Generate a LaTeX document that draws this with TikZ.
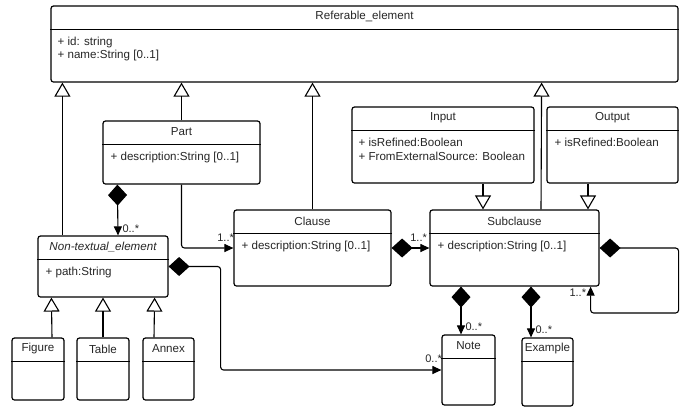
\documentclass[tikz,border=0pt]{standalone}
\usepackage{fontspec}
\setmainfont{Liberation Sans}
\usetikzlibrary{arrows.meta,positioning}
\tikzset{%
	classbox/.style = {draw, rectangle, rounded corners=2.5pt, line width=1.2pt, inner sep=0pt},
	ctitle/.style   = {font=\fontsize{11.6}{13}\selectfont, text=black!85, inner sep=0pt},
	cattr/.style    = {font=\fontsize{11.6}{13}\selectfont, text=black!85, inner sep=0pt, anchor=base west},
	mult/.style     = {font=\fontsize{11}{12}\selectfont, text=black!85, inner sep=0pt},
	gen/.style      = {line width=1.1pt, -{Triangle[open,length=14pt,width=16pt,line width=1.1pt]}},
	comp/.style     = {line width=1.1pt, rounded corners=3pt, {Diamond[length=21pt,width=19pt]}-{Triangle[length=9pt,width=8pt]}},
	assoc/.style    = {line width=1.1pt, rounded corners=3pt, -{Triangle[length=9pt,width=8pt]}},
}

\begin{document}
\begin{tikzpicture}[x=1pt,y=-1pt]
	\useasboundingbox (0,0) rectangle (692,408);
	% classes
	\node[classbox, minimum width=627pt, minimum height=76pt] (ref) at (364.5,44) {};
	\node[classbox, minimum width=157pt, minimum height=63pt] (part) at (181.5,152.5) {};
	\node[classbox, minimum width=182pt, minimum height=76pt] (input) at (443,145) {};
	\node[classbox, minimum width=131pt, minimum height=76pt] (output) at (612.5,145) {};
	\node[classbox, minimum width=157pt, minimum height=76pt] (clause) at (312.5,248) {};
	\node[classbox, minimum width=169pt, minimum height=76pt] (sub) at (514.5,248) {};
	\node[classbox, minimum width=130pt, minimum height=61pt] (nontext) at (103,266.5) {};
	\node[classbox, minimum width=52pt, minimum height=62pt] (figure) at (38,369) {};
	\node[classbox, minimum width=52pt, minimum height=62pt] (table) at (103,369) {};
	\node[classbox, minimum width=51pt, minimum height=62pt] (annex) at (168.5,369) {};
	\node[classbox, minimum width=53pt, minimum height=70pt] (note) at (468.5,370) {};
	\node[classbox, minimum width=51pt, minimum height=68pt] (example) at (547.5,372) {};
	% headers
	\foreach \b/\t in {ref/Referable\_element, part/Part, input/Input, output/Output, clause/Clause, sub/Subclause, nontext/{\itshape Non-textual\_element}, figure/Figure, table/Table, annex/Annex, note/Note, example/Example}{
		\node[ctitle] (\b-t) at ([yshift=-11.5pt]\b.north) {\t};
		\draw[line width=1.2pt] ([yshift=-24pt]\b.north west) -- ([yshift=-24pt]\b.north east);
	}
	% attributes
	\node[cattr] (ref-a1) at ([xshift=7pt,yshift=-40pt]ref.north west) {+ id: string};
	\node[cattr] (ref-a2) at ([xshift=7pt,yshift=-53pt]ref.north west) {+ name:String [0..1]};
	\node[cattr] (part-a1) at ([xshift=8pt,yshift=-40pt]part.north west) {+ description:String [0..1]};
	\node[cattr] (input-a1) at ([xshift=7pt,yshift=-40pt]input.north west) {+ isRefined:Boolean};
	\node[cattr] (input-a2) at ([xshift=7pt,yshift=-54pt]input.north west) {+ FromExternalSource: Boolean};
	\node[cattr] (output-a1) at ([xshift=8pt,yshift=-40pt]output.north west) {+ isRefined:Boolean};
	\node[cattr] (clause-a1) at ([xshift=8pt,yshift=-40pt]clause.north west) {+ description:String [0..1]};
	\node[cattr] (sub-a1) at ([xshift=8pt,yshift=-40pt]sub.north west) {+ description:String [0..1]};
	\node[cattr] (nontext-a1) at ([xshift=8pt,yshift=-40pt]nontext.north west) {+ path:String};
	% generalizations
	\draw[gen] ([xshift=25pt]nontext.north west) -- ([xshift=12pt]ref.south west);
	\draw[gen] (part.north) -- (part.north |- ref.south);
	\draw[gen] (clause.north) -- (clause.north |- ref.south);
	\draw[gen] ([xshift=26.5pt]sub.north) -- ([xshift=-137pt]ref.south east);
	\draw[gen] ([xshift=40pt]input.south) -- ([xshift=-31.5pt]sub.north);
	\draw[gen] ([xshift=-24.5pt]output.south) -- ([xshift=73.5pt]sub.north);
	\draw[gen] ([xshift=14pt]figure.north) -- ([xshift=14pt]nontext.south west);
	\draw[gen] (table.north) -- (nontext.south);
	\draw[gen] ([xshift=-14.5pt]annex.north) -- ([xshift=-14pt]nontext.south east);
	% compositions and associations
	\draw[comp] ([xshift=15pt]part.south west) -- ([xshift=15pt]nontext.north)
		node[mult, anchor=west, xshift=4pt, yshift=7pt] (m1) {0..*};
	\draw[assoc] (part.south) |- (clause.west)
		node[mult, anchor=east, xshift=1pt, yshift=10pt] (m2) {1..*};
	\draw[comp] (clause.east) -- (sub.west)
		node[mult, anchor=east, xshift=-2pt, yshift=10pt] (m3) {1..*};
	\draw[comp] (nontext.east) -- ++(52,0) |- (note.west)
		node[mult, anchor=east, xshift=1pt, yshift=11pt] (m4) {0..*};
	\draw[comp] ([xshift=-53.5pt]sub.south) -- ([xshift=-7.5pt]note.north)
		node[mult, anchor=west, xshift=4pt, yshift=8pt] (m5) {0..*};
	\draw[comp] ([xshift=16.5pt]sub.south) -- ([xshift=-16.5pt]example.north)
		node[mult, anchor=west, xshift=4pt, yshift=8pt] (m6) {0..*};
	\draw[comp] (sub.east) -- ++(79,0) -- ++(0,65) -| ([xshift=-9pt]sub.south east)
		node[mult, anchor=east, xshift=-4pt, yshift=-6pt] (m7) {1..*};
\end{tikzpicture}
\end{document}
